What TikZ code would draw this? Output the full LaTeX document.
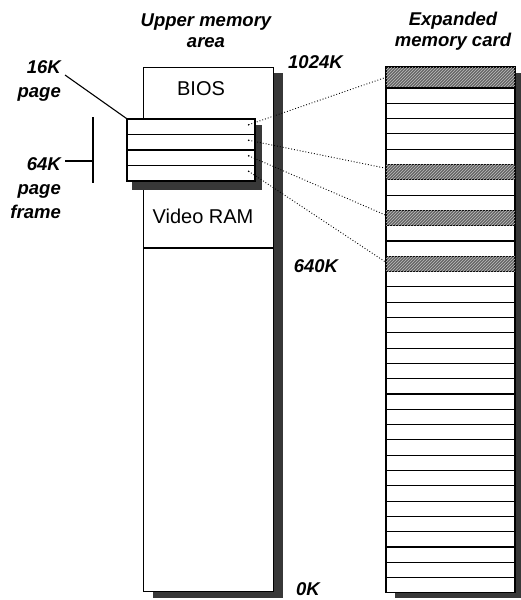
\documentclass[tikz,border=0pt]{standalone}
\usepackage{fontspec}
\setsansfont{Liberation Sans}
\usetikzlibrary{patterns}

\begin{document}
\begin{tikzpicture}[x=1pt, y=-1pt, font=\sffamily\fontsize{20}{24}\selectfont]
  \tikzstyle{lbl}=[font=\sffamily\bfseries\itshape\fontsize{18.5}{21}\selectfont,
                   inner sep=0pt, align=center]
  \tikzstyle{shd}=[fill=black!78, draw=none]
  \tikzstyle{pg}=[draw, fill=white, line width=1.1pt, minimum width=128pt,
                  minimum height=15.5pt, inner sep=0pt]
  \tikzstyle{row}=[draw, fill=white, line width=1.1pt, minimum width=129pt,
                   minimum height=15.3pt, inner sep=0pt]
  \tikzstyle{hatch}=[fill=black!60,
                     postaction={pattern=north east lines, pattern color=black!25}]
  \tikzstyle{lnk}=[dotted, line width=0.9pt]

  \useasboundingbox[fill=white] (0,0) rectangle (520,600);

  % ================= upper memory area column =================
  \fill[shd] (273,73) rectangle (283,598);
  \fill[shd] (153,591) rectangle (283,598);
  \node[draw, fill=white, line width=1.1pt, minimum width=130pt, minimum height=524pt,
        inner sep=0pt, anchor=north west] (mem) at (143,67) {};
  \node (bios) at (201,89) {BIOS};
  \node (vram) at (203,216) {Video RAM};
  \draw[line width=1.1pt] (mem.west |- 0,248) -- (mem.east |- 0,248);

  % ================= page frame (4 pages of 16K) =================
  \fill[shd] (255,125) rectangle (262,190);
  \fill[shd] (132,181) rectangle (262,190);
  \foreach \i in {1,...,4} {
    \node[pg] (p\i) at (191,{111.25+15.5*\i}) {};
    \coordinate (d\i) at ([xshift=-7pt,yshift=2pt]p\i.east);
    \fill (d\i) circle (0.8pt);
  }

  % ================= expanded memory card =================
  \fill[shd] (515,73) rectangle (525,598);
  \fill[shd] (395,593) rectangle (525,598);
  \node[row, hatch, minimum height=21pt] (c0) at (450.5,77.5) {};
  \foreach \i in {1,...,33}
    \node[row] (c\i) at (450.5,{88+15.3*(\i-0.5)}) {};
  \foreach \i in {6,9,12}
    \node[row, hatch] (c\i) at (450.5,{88+15.3*(\i-0.5)}) {};

  % pages mapped into the card
  \draw[lnk] (d1) -- (c0.west);
  \draw[lnk] (d2) -- ([yshift=4pt]c6.west);
  \draw[lnk] (d3) -- ([yshift=3pt]c9.west);
  \draw[lnk] (d4) -- ([yshift=2pt]c12.west);

  % ================= labels =================
  \node[lbl] (uma) at (206,31) {Upper memory\\area};
  \node[lbl] (emc) at (453,31) {Expanded\\memory card};
  \node[lbl, anchor=west] (k1024) at (288,62) {1024K};
  \node[lbl] (k640) at (316,266) {640K};
  \node[lbl] (k0) at (308,589) {0K};
  \node[lbl, align=right, anchor=east,
        font=\sffamily\bfseries\itshape\fontsize{18.5}{24}\selectfont] (pg16) at (61,81) {16K\\page};
  \node[lbl, align=right, anchor=east,
        font=\sffamily\bfseries\itshape\fontsize{18.5}{24}\selectfont] (pf64) at (61,188) {64K\\page\\frame};

  \coordinate (t16) at (65,75);
  \draw[line width=1.1pt] (t16) -- (p1.north west);
  \coordinate (t64) at (65,161);
  \coordinate (b1) at (93,117);
  \coordinate (b2) at (93,183);
  \draw[line width=1.1pt] (b1) -- (b2);
  \draw[line width=1.1pt] (t64) -- (b1 |- t64);
\end{tikzpicture}
\end{document}
